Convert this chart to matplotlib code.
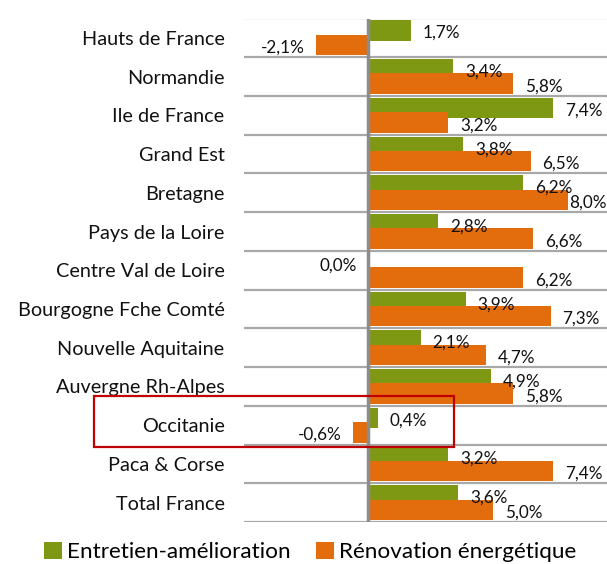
import matplotlib
matplotlib.use("Agg")
import matplotlib.pyplot as plt
import numpy as np
from matplotlib.patches import Patch, Rectangle

categories = ["Hauts de France", "Normandie", "Ile de France", "Grand Est", "Bretagne",
              "Pays de la Loire", "Centre Val de Loire", "Bourgogne Fche Comté",
              "Nouvelle Aquitaine", "Auvergne Rh-Alpes", "Occitanie", "Paca & Corse",
              "Total France"]
entretien = [1.7, 3.4, 7.4, 3.8, 6.2, 2.8, 0.0, 3.9, 2.1, 4.9, 0.4, 3.2, 3.6]
renovation = [-2.1, 5.8, 3.2, 6.5, 8.0, 6.6, 6.2, 7.3, 4.7, 5.8, -0.6, 7.4, 5.0]
series_names = ["Entretien-amélioration", "Rénovation énergétique"]

GREEN = "#7F9814"
ORANGE = "#E36C0C"
GRID = "#A8A8A8"
ZERO = "#8C8C8C"

plt.rcParams['font.family'] = ['Lato', 'DejaVu Sans']

W, H = 607, 564
fig = plt.figure(figsize=(W / 100, H / 100), dpi=100)
ax = fig.add_axes([244 / W, 1 - 522 / H, (607 - 244) / W, (522 - 18.5) / H])

n = len(categories)
y = np.arange(n)
h = 0.53
off = 0.185

ax.barh(y - off, entretien, height=h, color=GREEN, zorder=3)
ax.barh(y + off, renovation, height=h, color=ORANGE, zorder=4)

xmax = 9.56
ax.set_xlim(-4.96, xmax)
ax.set_ylim(n - 0.5, -0.5)

ax.axvline(0, color=ZERO, lw=2.5, zorder=5)

ax.set_yticks(y)
ax.set_yticklabels(categories, fontsize=14.3, color="#111111")
ax.set_yticks(np.arange(-0.5, n, 1.0), minor=True)
ax.tick_params(axis='y', which='both', length=0, pad=14)
ax.tick_params(axis='x', which='both', length=0, labelbottom=False)
ax.grid(which='major', axis='both', visible=False)
ax.grid(which='minor', axis='y', color=GRID, lw=1.6, zorder=1)
for s in ax.spines.values():
    s.set_visible(False)

def fmt(v):
    return f"{v:.1f}".replace(".", ",") + "%"

def label(v, yy):
    if v > 0:
        gap = 12 if v < xmax - 1.7 else 1
        ax.annotate(fmt(v), (v, yy), xytext=(gap, 0), textcoords='offset pixels',
                    ha='left', va='center', fontsize=12.3, color="#111111", zorder=6)
    else:
        ax.annotate(fmt(v), (min(v, 0), yy), xytext=(-11, 0), textcoords='offset pixels',
                    ha='right', va='center', fontsize=12.3, color="#111111", zorder=6)

for i in range(n):
    label(entretien[i], y[i] - off + 0.06)
    label(renovation[i], y[i] + off + 0.07)

# highlight box around Occitanie
fig.patches.append(Rectangle((94 / W, 1 - 447 / H), (454 - 94) / W, (447 - 396) / H,
                             transform=fig.transFigure, fill=False, edgecolor="#C00000",
                             lw=1.6, zorder=10))

handles = [Patch(facecolor=GREEN, edgecolor='none'), Patch(facecolor=ORANGE, edgecolor='none')]
fig.legend(handles, series_names, loc='center', bbox_to_anchor=(310 / W, 1 - 552 / H),
           ncol=2, frameon=False, fontsize=16.2, handlelength=0.8, handleheight=0.8,
           handletextpad=0.25, columnspacing=1.1, borderpad=0)

fig.savefig("out.png", dpi=100)
